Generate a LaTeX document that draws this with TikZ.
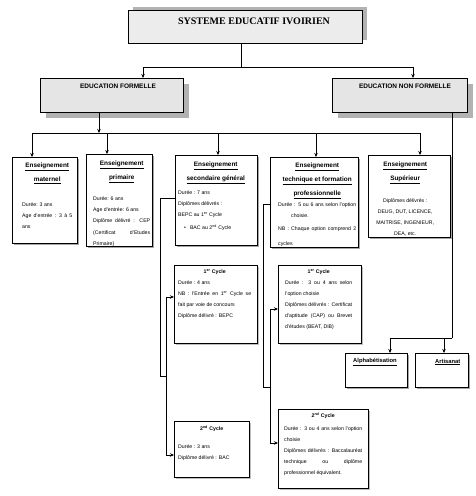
\documentclass[tikz,border=0pt]{standalone}
\usepackage{fontspec}
\setmainfont{Liberation Sans}
\newfontfamily\titlefont{Liberation Serif}
\usetikzlibrary{arrows.meta,calc,shadows}
\setlength{\parindent}{0pt}

\newcommand\bodyfont{\fontsize{5.2}{11}\selectfont}
\newcommand\ttl[1]{{\centering\fontsize{6.4}{14}\selectfont\bfseries\underline{#1}\par}}
\newcommand\cyc[1]{{\centering\bfseries #1\par}}

\tikzset{
  arr/.style={-{Stealth[length=4pt,width=3.5pt]}, line width=0.8pt},
  lnk/.style={line width=0.8pt},
  headbox/.style={draw, line width=1.3pt, fill=gray!20, inner sep=0pt, anchor=north west},
  levelbox/.style={draw, line width=0.9pt, fill=white, inner sep=0pt, anchor=north west,
    drop shadow={shadow xshift=2pt, shadow yshift=-2pt, fill=gray!70, opacity=1}},
  cyclebox/.style={draw, line width=0.6pt, fill=white, inner sep=0pt, anchor=north west,
    drop shadow={shadow xshift=1.5pt, shadow yshift=-1.5pt, fill=gray!50, opacity=1}},
  bigshadow/.style={drop shadow={shadow xshift=5pt, shadow yshift=-5pt, fill=gray!60, opacity=1}},
  boxtext/.style={anchor=north west, inner sep=0pt, align=justify, font=\bodyfont},
  lbl/.style={font=\bfseries\fontsize{5.8}{7}\selectfont, anchor=west, inner sep=0pt},
}

\begin{document}
\begin{tikzpicture}[x=1pt,y=-1pt]
\useasboundingbox (0,0) rectangle (475,496);

% head boxes
\node[headbox, fill=gray!15, minimum width=234pt, minimum height=33pt,
    drop shadow={shadow xshift=4pt, shadow yshift=4pt, fill=gray!60, opacity=1}] (sys) at (128,10) {};
\node[font=\titlefont\bfseries\fontsize{10}{12}\selectfont] (sysT) at (254,21) {SYSTEME EDUCATIF IVOIRIEN};

\node[headbox, bigshadow, minimum width=143pt, minimum height=34pt] (ef) at (40,78) {};
\node[headbox, bigshadow, minimum width=135pt, minimum height=34pt] (enf) at (332,78) {};
\node[font=\bfseries\fontsize{6.5}{8}\selectfont] (efT) at (118,86) {EDUCATION FORMELLE};
\node[font=\bfseries\fontsize{6.5}{8}\selectfont] (enfT) at (405,86) {EDUCATION NON FORMELLE};

% levels
\node[levelbox, minimum width=65pt, minimum height=86pt] (mat) at (12,157) {};
\node[levelbox, minimum width=66pt, minimum height=92pt] (pri) at (86,154) {};
\node[levelbox, minimum width=82pt, minimum height=90pt] (sec) at (175,155) {};
\node[levelbox, minimum width=88pt, minimum height=90pt] (tec) at (270,157) {};
\node[levelbox, minimum width=82pt, minimum height=82pt] (sup) at (368,155) {};

% cycles
\node[cyclebox, minimum width=83pt, minimum height=78pt] (sec1) at (174,265) {};
\node[cyclebox, minimum width=75pt, minimum height=56pt] (sec2) at (174,421) {};
\node[cyclebox, minimum width=83pt, minimum height=78pt] (tec1) at (278,265) {};
\node[cyclebox, minimum width=90pt, minimum height=79pt] (tec2) at (278,409) {};

% non formelle
\node[levelbox, minimum width=62pt, minimum height=34pt] (alpha) at (345,353) {};
\node[levelbox, minimum width=53pt, minimum height=34pt] (arti) at (415,353) {};
\node[lbl] (alphaT) at (353,362) {\underline{Alphabétisation}};
\node[lbl] (artiT) at (435,362) {\underline{Artisanat}};

% texts
\node[boxtext, text width=50pt] (matT) at ($(mat.north west)+(10,5.5)$)
  {\ttl{Enseignement}\ttl{maternel}\vspace{14.5pt}Durée: 3 ans\par
   Age d'entrée : 3 à 5\linebreak ans};
\begin{scope}
\clip (pri.north west) rectangle (pri.south east);
\node[boxtext, text width=57pt] (priT) at ($(pri.north west)+(7,6.5)$)
  {\ttl{Enseignement}\ttl{primaire}\vspace{9.5pt}{\fontsize{5.2}{11.3}\selectfont Durée: 6 ans\par
   Age d'entrée: 6 ans\par
   Diplôme délivré : CEP\linebreak (Certificat d'Etudes\linebreak Primaire)\par}};
\end{scope}
\node[boxtext, text width=75pt] (secT) at ($(sec.north west)+(3,6.5)$)
  {\ttl{Enseignement}\ttl{secondaire général}\vspace{3.5pt}Durée : 7 ans\par
   Diplômes délivrés :\par
   BEPC au 1\textsuperscript{er} Cycle\par\vspace{2pt}
   \hspace*{6pt}\textbullet\hspace{4pt}BAC au 2\textsuperscript{nd} Cycle};
\begin{scope}
\clip (tec.north west) rectangle (tec.south east);
\node[boxtext, text width=78pt] (tecT) at ($(tec.north west)+(8,5.5)$)
  {\ttl{Enseignement}\ttl{technique et formation}\ttl{professionnelle}\vspace{0.5pt}
   Durée : 5 ou 6 ans selon l'option\linebreak\hspace*{13pt}choisie.\par\vspace{-2pt}
   {\fontsize{5.2}{15}\selectfont NB : Chaque option comprend 2\linebreak cycles\par}};
\end{scope}
\node[boxtext, text width=66pt] (supT) at ($(sup.north west)+(4,6.5)$)
  {\ttl{Enseignement}\ttl{Supérieur}\vspace{11.5pt}{\centering Diplômes délivrés :\par
   DEUG, DUT, LICENCE,\par MAITRISE, INGENIEUR,\par DEA, etc.\par}};

\node[boxtext, text width=73pt] (sec1T) at ($(sec1.north west)+(4,4)$)
  {\cyc{1\textsuperscript{er} Cycle}Durée : 4 ans\par
   NB : l'Entrée en 1\textsuperscript{er} Cycle se\linebreak fait par voie de concours\par
   Diplôme délivré : BEPC};
\node[boxtext, text width=67pt] (sec2T) at ($(sec2.north west)+(4,4.5)$)
  {\cyc{2\textsuperscript{nd} Cycle}\vspace{7pt}Durée : 3 ans\par
   Diplôme délivré : BAC};
\node[boxtext, text width=67pt] (tec1T) at ($(tec1.north west)+(7,4)$)
  {\cyc{1\textsuperscript{er} Cycle}Durée : 3 ou 4 ans selon\linebreak l'option choisie\par
   Diplômes délivrés : Certificat\linebreak d'aptitude (CAP) ou Brevet\linebreak d'études (BEAT, DIB)};
\node[boxtext, text width=78pt] (tec2T) at ($(tec2.north west)+(6,3.5)$)
  {\cyc{2\textsuperscript{nd} Cycle}\vspace{2pt}Durée : 3 ou 4 ans selon l'option\linebreak choisie\par
   Diplômes délivrés : Baccalauréat\linebreak technique ou diplôme\linebreak professionnel équivalent.};

% connectors
\coordinate (j0) at (241,67);
\draw[lnk] ($(sys.south west)+(113,0)$) -- (j0);
\draw[arr] (j0) -| ($(ef.north west)+(103,0)$);
\draw[arr] (j0) -| ($(enf.north west)+(81,0)$);

\coordinate (j1) at (99,133);
\draw[arr] ($(ef.south west)+(59,0)$) -- (j1);
\draw[arr] (j1) -| ($(mat.north west)+(20,0)$);
\draw[arr] (j1) -| ($(pri.north west)+(21,0)$);
\draw[arr] (j1) -| ($(sec.north west)+(43,0)$);
\draw[arr] (j1) -| ($(tec.north west)+(46,0)$);
\draw[arr] (j1) -| ($(sup.north west)+(52,0)$);

\coordinate (j2) at (452,338);
\draw[lnk] ($(enf.south west)+(120,0)$) -- (j2);
\draw[arr] (j2) -| ($(alpha.north west)+(45,0)$);
\draw[arr] (j2) -| ($(arti.north west)+(29,0)$);

\coordinate (js) at (166,376);
\draw[lnk] ($(sec.north west)+(0,43)$) -- ++(-15,0) |- (js);
\draw[arr] (js) |- ($(sec1.north west)+(0,32)$);
\draw[arr] (js) |- ($(sec2.north west)+(0,34)$);

\coordinate (jt) at (270,387);
\draw[lnk] ($(tec.north west)+(0,47)$) -- ++(-7,0) |- (jt);
\draw[arr] (jt) |- ($(tec1.north west)+(0,44)$);
\draw[arr] (jt) |- ($(tec2.north west)+(0,34)$);
\end{tikzpicture}
\end{document}
